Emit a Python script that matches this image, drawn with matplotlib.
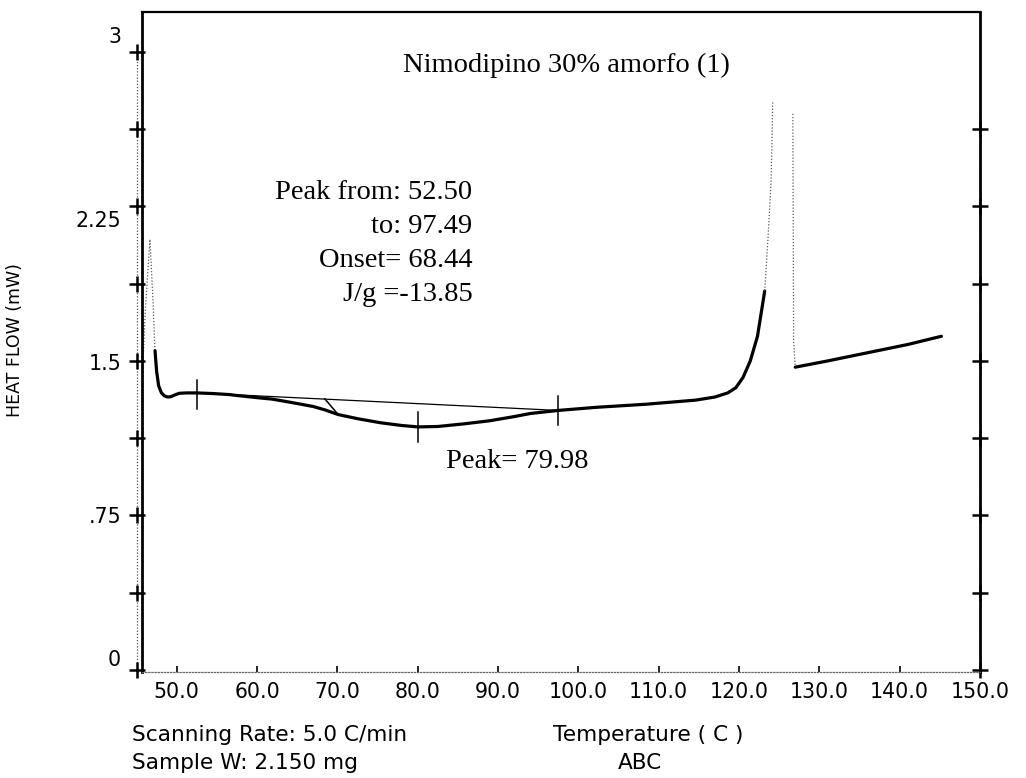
import numpy as np
import matplotlib
matplotlib.use('Agg')
import matplotlib.pyplot as plt

# --- datos leidos del termograma ---
# pico pequeño inicial (trazo tenue)
t_spike = [45.68, 46.1, 46.67, 47.04, 47.3]
hf_spike = [1.38, 1.75, 2.09, 1.80, 1.55]

# trazo principal
t_main = [47.3, 47.5, 47.75, 48.1, 48.5, 48.9, 49.3, 49.75, 50.3, 51.2,
          52.47, 54.5, 56.5, 58.1, 60.0, 61.85, 63.5, 65.2, 67.0, 68.5,
          70.1, 72.5, 75.4, 78.0, 80.0, 82.5, 85.8, 89.0, 92.0, 94.0,
          97.5, 102.2, 108.4, 114.6, 117.0, 118.6, 119.6, 120.5, 121.4,
          122.3, 123.2]
hf_main = [1.55, 1.45, 1.38, 1.345, 1.33, 1.325, 1.327, 1.335, 1.343, 1.345,
           1.345, 1.342, 1.337, 1.33, 1.322, 1.315, 1.304, 1.292, 1.279, 1.262,
           1.24, 1.22, 1.20, 1.187, 1.18, 1.182, 1.195, 1.21, 1.23, 1.245,
           1.26, 1.275, 1.29, 1.31, 1.325, 1.345, 1.37, 1.42, 1.50,
           1.62, 1.84]

# subida de fusion (trazo tenue)
t_melt = [123.2, 123.6, 124.0, 124.2]
hf_melt = [1.84, 2.09, 2.38, 2.76]

# caida tras la fusion (trazo tenue)
t_drop = [126.7, 126.8, 127.0]
hf_drop = [2.70, 1.60, 1.47]

# cola final
t_tail = [127.0, 131.0, 136.0, 141.0, 145.2]
hf_tail = [1.47, 1.50, 1.54, 1.58, 1.62]

# analisis del pico
peak_from, peak_to, peak_t = 52.50, 97.49, 79.98
base_hf = [1.345, 1.26]
onset_t = [68.44, 70.1]
onset_hf = [1.316, 1.24]
marker_t = [peak_from, peak_t, peak_to]
marker_hf = [1.338, 1.18, 1.26]

x_ticks = [50, 60, 70, 80, 90, 100, 110, 120, 130, 140, 150]
y_labels = [0, 0.75, 1.5, 2.25, 3]
y_label_txt = ['0', '.75', '1.5', '2.25', '3']
y_label_dy = [10, -2, -3, -15, 15]   # desplazamiento vertical en pixeles
y_grid = np.arange(0, 3.01, 0.375)

W, H = 1026, 778
fig = plt.figure(figsize=(W / 100, H / 100), dpi=100)
ax = fig.add_axes([142 / W, 1 - 672 / H, (980 - 142) / W, (672 - 12) / H])
ax.set_xlim(45.68, 149.14)
ax.set_ylim(-0.0097, 3.194)

serif = 'Liberation Serif'
sans = 'DejaVu Sans'

# curvas
faint = dict(color='0.35', lw=0.9, ls=(0, (1, 1.5)))
ax.plot(t_spike, hf_spike, **faint)
ax.plot(t_main, hf_main, color='black', lw=2.3, solid_capstyle='round')
ax.plot(t_melt, hf_melt, **faint)
ax.plot(t_drop, hf_drop, **faint)
ax.plot(t_tail, hf_tail, color='black', lw=2.3, solid_capstyle='round')

# linea base y tangente de onset
ax.plot([peak_from, peak_to], base_hf, color='black', lw=0.9)
ax.plot(onset_t, onset_hf, color='black', lw=1.1)
for t, h in zip(marker_t, marker_hf):
    ax.plot([t, t], [h - 0.072, h + 0.072], color='black', lw=1.1)

# marco
for side in ['left', 'right', 'top']:
    ax.spines[side].set_linewidth(2)
ax.spines['top'].set_linewidth(1.6)
ax.spines['bottom'].set_linestyle((0, (1, 1.5)))
ax.spines['bottom'].set_color('0.4')
ax.spines['bottom'].set_linewidth(0.9)

# eje x
ax.set_xticks(x_ticks)
ax.set_xticklabels([f'{v:.1f}' for v in x_ticks], fontsize=14.8, family=sans)
ax.tick_params(axis='x', direction='in', length=4, width=1.2, pad=7)

# eje y: linea punteada con cruces fuera del marco
ax.set_yticks([])
ax.plot([45.06, 45.06], [-0.01, 3.0], color='0.3', lw=0.9, ls=(0, (1, 1.5)), clip_on=False)
ax.plot(np.full(len(y_grid), 45.06), y_grid, ls='none', marker='+', ms=11,
        mew=1.8, color='black', clip_on=False)
ax.plot([150, 150], [-0.01, 2.77], color='0.3', lw=0.9, ls=(0, (1, 1.5)), clip_on=False)
ax.plot(np.full(len(y_grid) - 1, 150), y_grid[:-1], ls='none', marker='+', ms=11,
        mew=1.8, color='black', clip_on=False)
for v, s, dy in zip(y_labels, y_label_txt, y_label_dy):
    ax.annotate(s, xy=(0, v), xycoords=('axes fraction', 'data'),
                xytext=(-21, dy), textcoords='offset pixels',
                ha='right', va='center', fontsize=14.8, family=sans)

# textos
ax.text(98.5, 2.937, 'Nimodipino 30% amorfo (1)', ha='center', va='center',
        fontsize=20.5, family=serif)
info = ['Peak from: 52.50', 'to: 97.49', 'Onset= 68.44', 'J/g =-13.85']
for i, s in enumerate(info):
    ax.text(86.8, 2.32 - i * 0.165, s, ha='right', va='center',
            fontsize=20.5, family=serif)
ax.text(83.5, 1.01, 'Peak= 79.98', ha='left', va='center', fontsize=20.5, family=serif)

fig.text(15 / W, 1 - 340 / H, 'HEAT FLOW (mW)', rotation=90, ha='center',
         va='center', fontsize=12.5, family=sans)
fig.text(132 / W, 1 - 735 / H, 'Scanning Rate: 5.0 C/min', ha='left', va='center',
         fontsize=15.6, family=sans)
fig.text(132 / W, 1 - 763 / H, 'Sample W: 2.150 mg', ha='left', va='center',
         fontsize=15.6, family=sans)
fig.text(648 / W, 1 - 735 / H, 'Temperature ( C )', ha='center', va='center',
         fontsize=15.6, family=sans)
fig.text(640 / W, 1 - 763 / H, 'ABC', ha='center', va='center',
         fontsize=15.6, family=sans)

fig.savefig('out.png', dpi=100)
